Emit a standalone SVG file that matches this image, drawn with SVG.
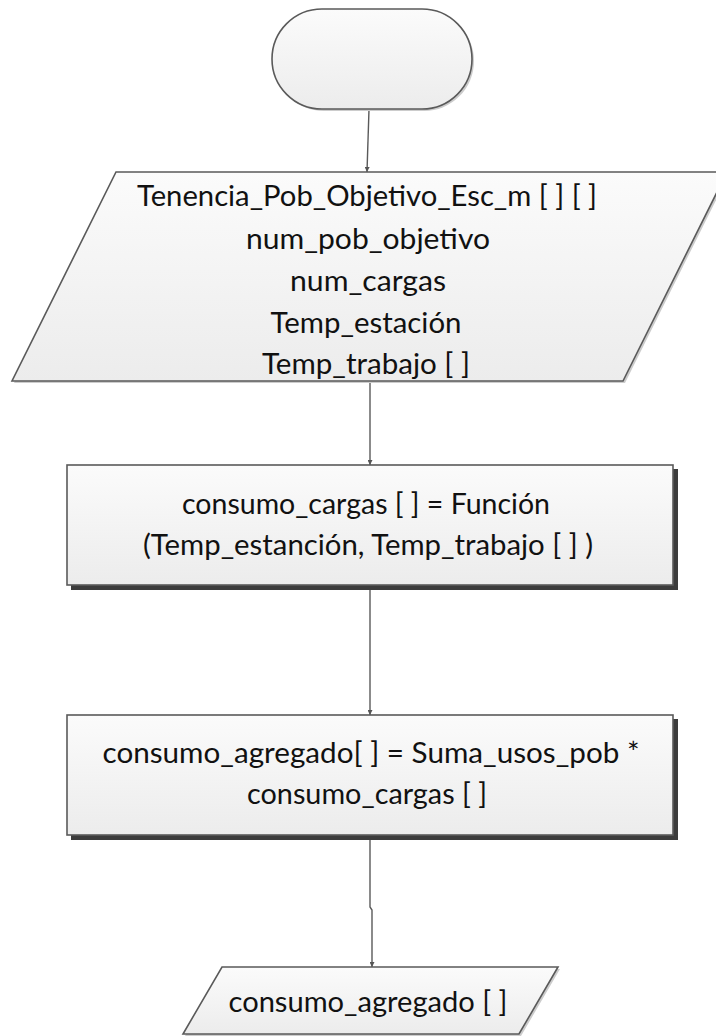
<svg xmlns="http://www.w3.org/2000/svg" width="716" height="1036" viewBox="0 0 716 1036">
  <style>
    .shape { fill: url(#fillGrad); stroke: #5a5a5a; stroke-width: 1.6; }
    .softShadow { fill: #cccccc; stroke: none; }
    .hardShadow { fill: #3c3c3c; stroke: none; }
    .label { font-family: "Lato", "Liberation Sans", sans-serif; font-size: 28px; fill: #111111; text-anchor: middle; }
    .flow { fill: none; stroke: #5a5a5a; stroke-width: 1.4; marker-end: url(#arrow); }
  </style>
  <defs>
    <linearGradient id="fillGrad" x1="0" y1="0" x2="0" y2="1">
      <stop offset="0" stop-color="#fbfbfb"/>
      <stop offset="1" stop-color="#ececec"/>
    </linearGradient>
    <marker id="arrow" viewBox="0 0 8 8" refX="8" refY="4" markerWidth="5" markerHeight="5" markerUnits="userSpaceOnUse" orient="auto">
      <path d="M0,0 L8,4 L0,8 Z" fill="#555555"/>
    </marker>
  </defs>

  <!-- connectors -->
  <g id="connectors">
    <path class="flow" d="M369,109 L367,172"/>
    <path class="flow" d="M370,381 L370,465"/>
    <path class="flow" d="M370,590 L370,715"/>
    <path class="flow" d="M370,840 L370,907 L372,910 L372,967"/>
  </g>

  <!-- start terminator -->
  <g id="start">
    <rect class="softShadow" x="274" y="11" width="200" height="100" rx="50" ry="50"/>
    <rect class="shape" x="272" y="9" width="200" height="100" rx="50" ry="50"/>
  </g>

  <!-- input data -->
  <g id="input">
    <polygon class="softShadow" points="118,174 729,174 625,383 14,383"/>
    <polygon class="shape" points="116,172 727,172 623,381 12,381"/>
    <text class="label" x="367" y="206" textLength="460" lengthAdjust="spacingAndGlyphs">Tenencia_Pob_Objetivo_Esc_m [ ] [ ]</text>
    <text class="label" x="368" y="249" textLength="244" lengthAdjust="spacingAndGlyphs">num_pob_objetivo</text>
    <text class="label" x="368" y="291" textLength="156" lengthAdjust="spacingAndGlyphs">num_cargas</text>
    <text class="label" x="366" y="333" textLength="191" lengthAdjust="spacingAndGlyphs">Temp_estación</text>
    <text class="label" x="366" y="374" textLength="208" lengthAdjust="spacingAndGlyphs">Temp_trabajo [ ]</text>
  </g>

  <!-- load consumption -->
  <g id="consumo-cargas">
    <rect class="hardShadow" x="71" y="469" width="607" height="121"/>
    <rect class="shape" x="67" y="465" width="606" height="120"/>
    <text class="label" x="366" y="514" textLength="368" lengthAdjust="spacingAndGlyphs">consumo_cargas [ ] = Función</text>
    <text class="label" x="368" y="555" textLength="450" lengthAdjust="spacingAndGlyphs">(Temp_estanción, Temp_trabajo [ ] )</text>
  </g>

  <!-- aggregated consumption -->
  <g id="consumo-agregado">
    <rect class="hardShadow" x="71" y="719" width="607" height="121"/>
    <rect class="shape" x="67" y="715" width="606" height="120"/>
    <text class="label" x="371" y="763" textLength="537" lengthAdjust="spacingAndGlyphs">consumo_agregado[ ] = Suma_usos_pob *</text>
    <text class="label" x="367" y="804" textLength="240" lengthAdjust="spacingAndGlyphs">consumo_cargas [ ]</text>
  </g>

  <!-- output data -->
  <g id="output">
    <polygon class="softShadow" points="224,969 560,969 521,1036 185,1036"/>
    <polygon class="shape" points="222,967 558,967 519,1034 183,1034"/>
    <text class="label" x="368" y="1012" textLength="279" lengthAdjust="spacingAndGlyphs">consumo_agregado [ ]</text>
  </g>
</svg>
